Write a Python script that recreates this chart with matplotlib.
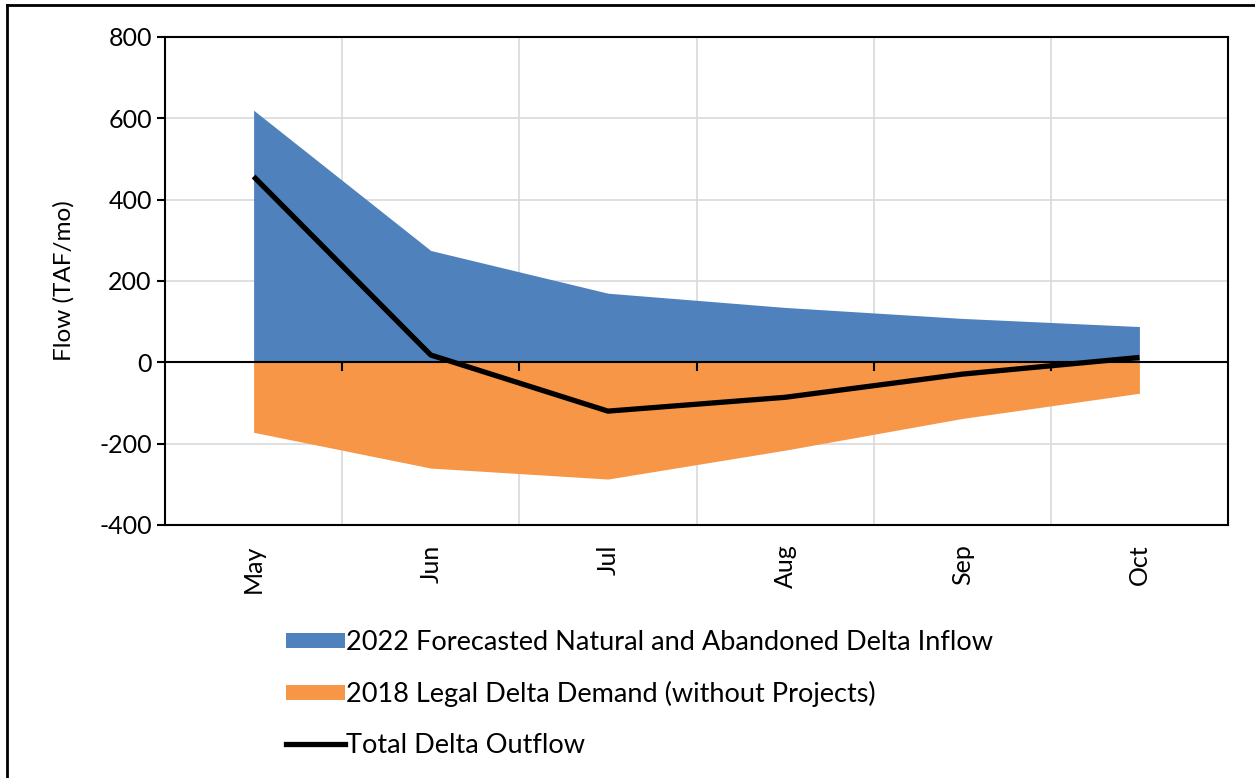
import numpy as np
import matplotlib.pyplot as plt
from matplotlib.lines import Line2D
from matplotlib.patches import Patch

# chart data (TAF/mo)
months = ["May", "Jun", "Jul", "Aug", "Sep", "Oct"]
inflow_2022 = [620, 275, 170, 135, 108, 88]
demand_2018 = [-172, -260, -287, -216, -138, -76]
total_outflow = [457, 18, -120, -86, -29, 12]

plt.rcParams['font.family'] = ['Lato', 'DejaVu Sans']
plt.rcParams['axes.unicode_minus'] = False

blue = "#4F81BD"
orange = "#F79646"

fig = plt.figure(figsize=(12.55, 7.78), dpi=100)
ax = fig.add_axes([165 / 1255, 1 - 525 / 778, 1063 / 1255, 488 / 778])

x = np.arange(len(months))
ax.fill_between(x, 0, inflow_2022, color=blue, lw=0, zorder=2)
ax.fill_between(x, 0, demand_2018, color=orange, lw=0, zorder=2)
ax.plot(x, total_outflow, color="black", lw=3.8, zorder=4,
        solid_capstyle="butt")

ax.set_xlim(-0.5, len(months) - 0.5)
ax.set_ylim(-400, 800)
ax.set_yticks(range(-400, 801, 200))
ax.set_xticks(x)
ax.set_xticklabels(months, rotation=90)
ax.set_xticks(np.arange(0.5, len(months) - 1, 1), minor=True)

# gridlines: horizontal at major y ticks, vertical between categories
ax.yaxis.grid(True, color="#d9d9d9", lw=1.2, zorder=0)
ax.xaxis.grid(True, which="minor", color="#d9d9d9", lw=1.2, zorder=0)
ax.set_axisbelow(True)

ax.tick_params(axis="x", which="major", length=0, pad=14, labelsize=18)
ax.tick_params(axis="x", which="minor", length=0)
ax.tick_params(axis="y", length=6, width=1.5, direction="out", labelsize=18)

for s in ax.spines.values():
    s.set_linewidth(1.5)
    s.set_color("black")

# zero line with tick marks between categories
ax.axhline(0, color="black", lw=1.5, zorder=3)
for xb in np.arange(0.5, len(months) - 1, 1):
    ax.plot([xb, xb], [0, -20], color="black", lw=1.5, zorder=3)

ax.set_ylabel("Flow (TAF/mo)", fontsize=17.5, labelpad=18)

handles = [
    Patch(facecolor=blue, edgecolor="none"),
    Patch(facecolor=orange, edgecolor="none"),
    Line2D([0], [0], color="black", lw=3.8),
]
labels = [
    "2022 Forecasted Natural and Abandoned Delta Inflow",
    "2018 Legal Delta Demand (without Projects)",
    "Total Delta Outflow",
]
fig.legend(handles, labels, loc="upper left",
           bbox_to_anchor=(262 / 1255, 1 - 606 / 778), frameon=False,
           fontsize=19.5, handlelength=2.15, handleheight=0.5,
           handletextpad=0.05, labelspacing=0.95)

# outer chart border (left and top visible)
fig.add_artist(Line2D([7 / 1255, 7 / 1255], [0, 1 - 5 / 778],
                      transform=fig.transFigure, color="black", lw=2))
fig.add_artist(Line2D([7 / 1255, 1], [1 - 5 / 778, 1 - 5 / 778],
                      transform=fig.transFigure, color="black", lw=2))

fig.savefig("out.png", dpi=100)
